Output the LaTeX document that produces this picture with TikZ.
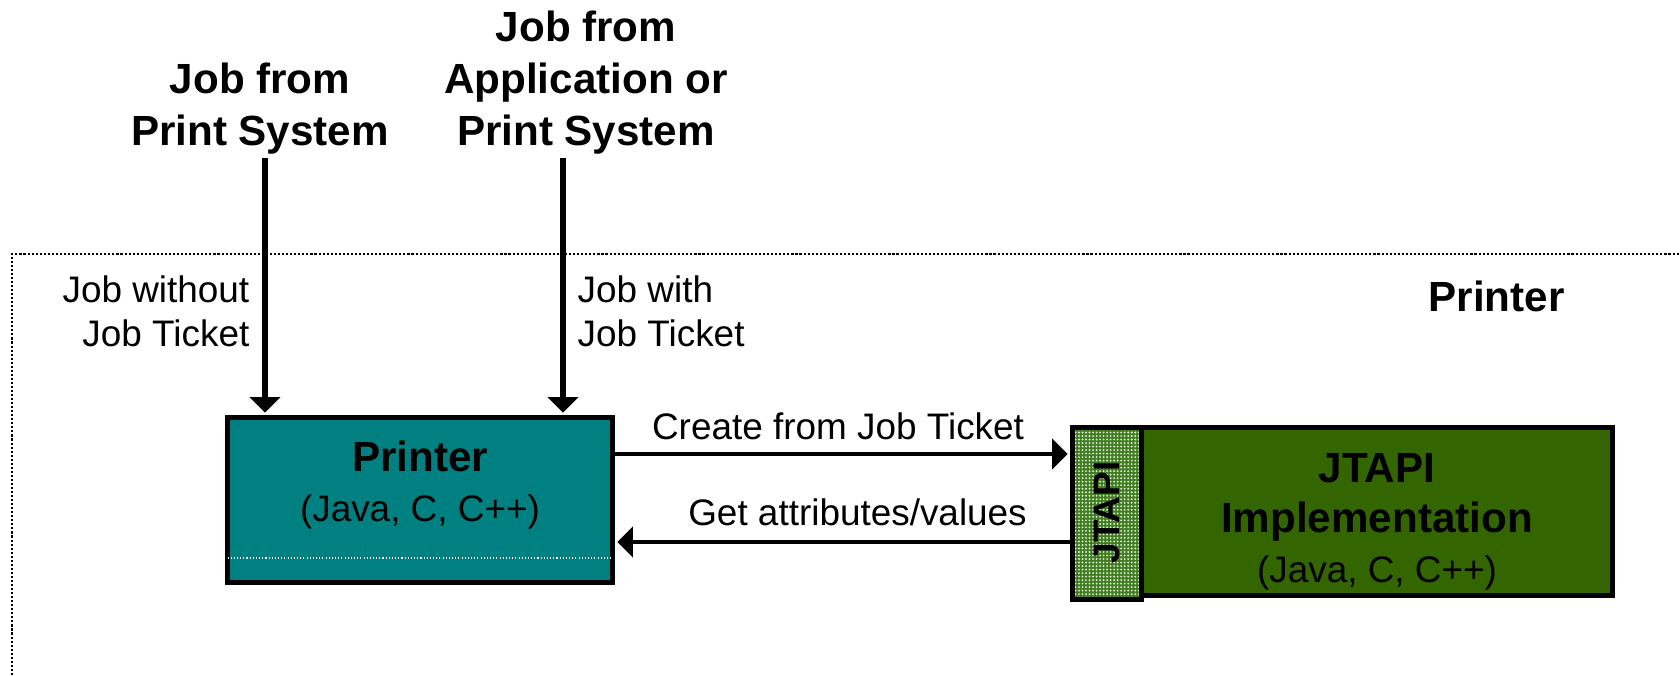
\documentclass[tikz,border=0pt]{standalone}
\usepackage{fontspec}
\setmainfont{Liberation Sans}
\usepackage{tikz}
\usetikzlibrary{arrows.meta}
\usetikzlibrary{patterns.meta}
\definecolor{prnteal}{RGB}{0,128,128}
\definecolor{implgreen}{RGB}{51,102,0}
\definecolor{apigreen}{RGB}{64,124,34}
\definecolor{apidot}{RGB}{222,236,208}
\tikzset{
box/.style={draw, line width=1.4pt, inner sep=0pt},
arr/.style={-{Triangle[length=4.4pt,width=8.6pt]}, shorten >=0.7pt},
vline/.style={line width=1.9pt},
hline/.style={line width=1.35pt},
head/.style={font=\fontsize{12}{14.8}\selectfont\bfseries, align=center, inner sep=0pt},
lbl/.style={font=\fontsize{10.5}{12.5}\selectfont, inner sep=0pt},
}

\begin{document}
\begin{tikzpicture}
\useasboundingbox (0,0) rectangle (16.8,6.75);
% the printer frame
\draw[line width=0.75pt, dash pattern=on 0.6pt off 0.55pt] (0.12,0) |- (16.8,4.21);
\node[head, anchor=base] (frame) at (14.965,3.63) {Printer};
% the boxes
\node[box, fill=prnteal, minimum width=3.85cm, minimum height=1.65cm] (prn) at (4.20,1.75) {};
\node[box, fill=implgreen, minimum width=4.71cm, minimum height=1.68cm] (impl) at (13.77,1.635) {};
\node[box, preaction={fill=apigreen}, pattern={Dots[distance=1pt,radius=0.3pt]}, pattern color=apidot,
  minimum width=0.69cm, minimum height=1.72cm] (api) at (11.07,1.615) {};
\coordinate (rule) at (0,1.17);
\draw[white, line width=0.3pt, dash pattern=on 0.3pt off 0.6pt, shorten <=0.7pt, shorten >=0.7pt]
  (prn.west |- rule) -- (prn.east |- rule);
% the box texts
\node[head, anchor=base] (prnname) at (4.20,2.04) {Printer};
\node[lbl, anchor=base] (prnlang) at (4.20,1.53) {(Java, C, C++)};
\node[head, anchor=base] (implname) at (13.77,1.93) {JTAPI};
\node[head, anchor=base] (impltype) at (13.77,1.43) {Implementation};
\node[lbl, anchor=base] (impllang) at (13.77,0.93) {(Java, C, C++)};
\node[head, font=\fontsize{10.5}{12}\selectfont\bfseries, rotate=90] (apiname) at (11.065,1.625) {JTAPI};
% the job sources
\node[head, anchor=north] (srcps) at (2.60,6.13) {Job from\\Print System};
\node[head, anchor=north] (srcapp) at (5.86,6.65) {Job from\\Application or\\Print System};
\node[lbl, align=right, anchor=north east] (nojt) at (2.50,4.00) {Job without\\Job Ticket};
\node[lbl, align=left, anchor=north west] (withjt) at (5.77,4.00) {Job with\\Job Ticket};
% the arrows
\coordinate (colps) at (2.65,5.17);
\coordinate (colapp) at (5.63,5.17);
\coordinate (rowc) at (0,2.21);
\coordinate (rowg) at (0,1.33);
\draw[arr, vline] (colps) -- (colps |- prn.north);
\draw[arr, vline] (colapp) -- (colapp |- prn.north);
\draw[arr, hline] (prn.east |- rowc) -- (api.west |- rowc);
\draw[arr, hline] (api.west |- rowg) -- (prn.east |- rowg);
\node[lbl, anchor=base] (createlbl) at (8.38,2.35) {Create from Job Ticket};
\node[lbl, anchor=base] (getlbl) at (8.575,1.50) {Get attributes/values};
\end{tikzpicture}
\end{document}
